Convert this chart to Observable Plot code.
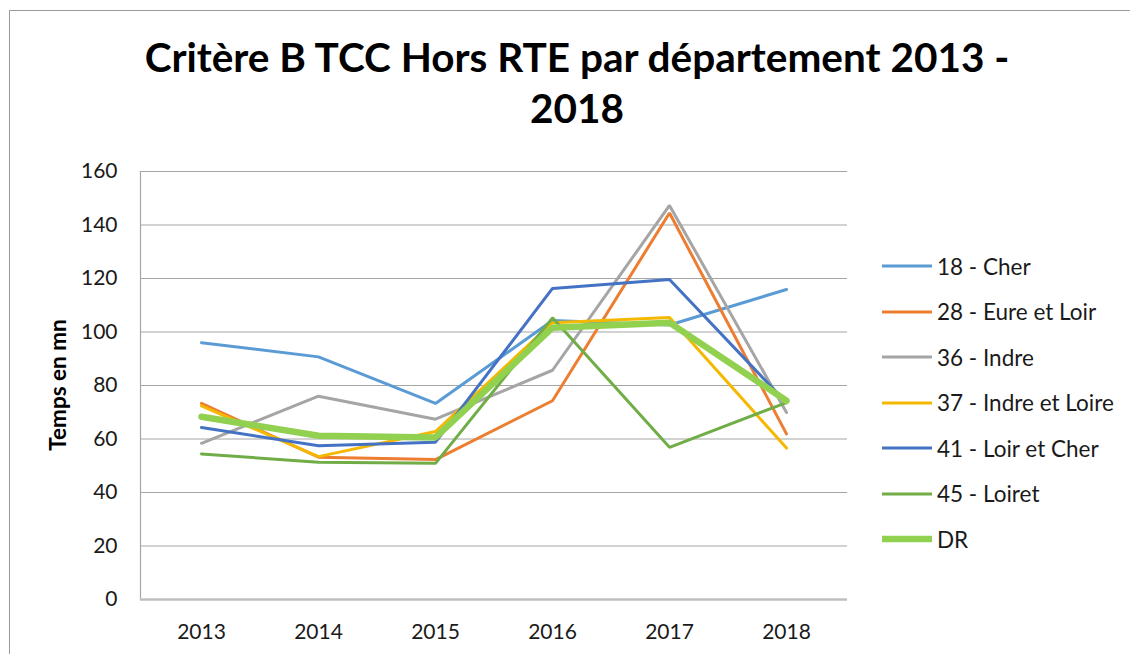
<!DOCTYPE html>
<html>
<head>
<meta charset="utf-8">
<script src="https://cdn.jsdelivr.net/npm/d3@7"></script>
<script src="https://cdn.jsdelivr.net/npm/@observablehq/plot@0.6"></script>
<style>
  html, body { margin: 0; padding: 0; background: #fff; }
  #wrap { position: relative; width: 1130px; height: 654px; overflow: hidden; font-family: Lato, "Open Sans", sans-serif; color: #1a1a1a; }
  #border { position: absolute; left: 9px; top: 10px; width: 1140px; height: 660px; border: 1.5px solid #9a9a9a; box-sizing: border-box; }
  #title { position: absolute; left: 9px; width: 1136px; top: 31px; text-align: center; font-weight: bold; font-size: 40.5px; line-height: 51px; color: #000; }
  #chart { position: absolute; left: 0; top: 150px; }
  #ylabel { position: absolute; left: 57px; top: 385px; transform: translate(-50%, -50%) rotate(-90deg); font-weight: bold; font-size: 22.5px; white-space: nowrap; color: #000; }
  #legend { position: absolute; left: 882px; top: 0; }
  .item { position: absolute; left: 0; height: 30px; display: flex; align-items: center; font-size: 22.5px; white-space: nowrap; color: #1a1a1a; }
  .item svg { margin-right: 5px; }
</style>
</head>
<body>
<div id="wrap">
  <div id="border"></div>
  <div id="title">Critère B TCC Hors RTE par département 2013 -<br>2018</div>
  <div id="chart"></div>
  <div id="ylabel">Temps en mn</div>
  <div id="legend"></div>
</div>
<script>
const years = ["2013", "2014", "2015", "2016", "2017", "2018"];
const seriesNames = ["18 - Cher", "28 - Eure et Loir", "36 - Indre", "37 - Indre et Loire", "41 - Loir et Cher", "45 - Loiret", "DR"];
const seriesColors = ["#5B9BD5", "#ED7D31", "#A5A5A5", "#F5B800", "#4472C4", "#70AD47", "#92D050"];
const cher = [96, 90.7, 73.3, 104.3, 102.6, 115.9];
const eureEtLoir = [73.3, 53.2, 52.3, 74.3, 144.5, 61.9];
const indre = [58.4, 76, 67.4, 85.7, 147.3, 69.9];
const indreEtLoire = [72.4, 53.4, 62.8, 103.5, 105.4, 56.6];
const loirEtCher = [64.3, 57.5, 58.8, 116.3, 119.6, 73.6];
const loiret = [54.4, 51.3, 50.9, 105.3, 56.9, 73.6];
const dr = [68.3, 61.2, 60.6, 101.6, 103.5, 74.3];
const yTicks = [0, 20, 40, 60, 80, 100, 120, 140, 160];

const allValues = [cher, eureEtLoir, indre, indreEtLoire, loirEtCher, loiret, dr];
const rows = [];
allValues.forEach((vals, i) => vals.forEach((v, j) => rows.push({series: seriesNames[i], year: years[j], value: v})));
const deptRows = rows.filter(d => d.series !== "DR");
const drRows = rows.filter(d => d.series === "DR");

const plot = Plot.plot({
  width: 1130,
  height: 504,
  marginTop: 21,
  marginBottom: 55,
  marginLeft: 140,
  marginRight: 283,
  style: { fontFamily: "Lato, 'Open Sans', sans-serif", fontSize: "21px", color: "#1a1a1a", background: "transparent" },
  x: { type: "point", domain: years, padding: 0.5 },
  y: { domain: [0, 160] },
  color: { domain: seriesNames, range: seriesColors },
  marks: [
    Plot.gridY(yTicks, { stroke: "#a6a6a6", strokeOpacity: 1, strokeWidth: 1.2 }),
    Plot.frame({ anchor: "left", stroke: "#a6a6a6", strokeWidth: 1.2 }),
    Plot.ruleY([0], { stroke: "#bfbfbf", strokeWidth: 2.5 }),
    Plot.axisY(yTicks, { tickSize: 0, tickPadding: 23, label: null, fontSize: 21 }),
    Plot.axisX({ tickSize: 0, tickPadding: 25, label: null, fontSize: 21 }),
    Plot.line(deptRows, { x: "year", y: "value", z: "series", stroke: "series", strokeWidth: 3, strokeLinejoin: "miter" }),
    Plot.line(drRows, { x: "year", y: "value", z: "series", stroke: "series", strokeWidth: 6.5, strokeLinejoin: "miter" })
  ]
});
document.getElementById("chart").appendChild(plot);

const legendY = [266, 311.5, 357, 402.5, 448, 493.5, 539];
const legend = document.getElementById("legend");
seriesNames.forEach((name, i) => {
  const item = document.createElement("div");
  item.className = "item";
  item.style.top = (legendY[i] - 15) + "px";
  const w = name === "DR" ? 6.5 : 3;
  item.innerHTML = `<svg width="50" height="10"><line x1="0" x2="50" y1="5" y2="5" stroke="${seriesColors[i]}" stroke-width="${w}"/></svg><span>${name}</span>`;
  legend.appendChild(item);
});
</script>
</body>
</html>
